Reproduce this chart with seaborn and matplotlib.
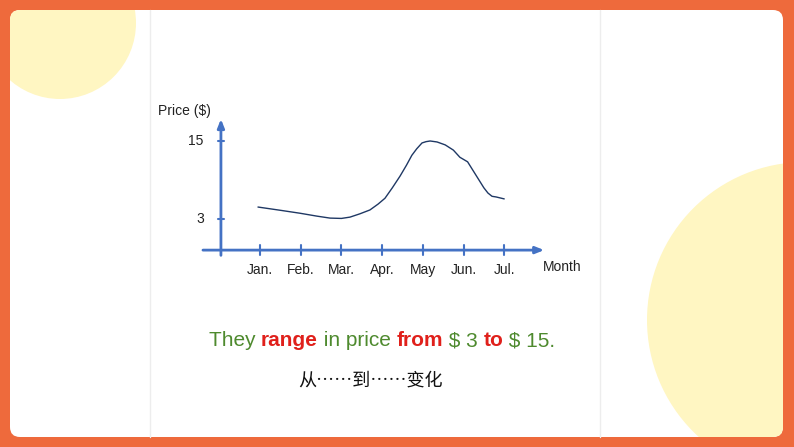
import matplotlib
matplotlib.use("Agg")
import matplotlib.pyplot as plt
import seaborn as sns
import pandas as pd
from matplotlib.patches import FancyBboxPatch, Circle
from matplotlib.offsetbox import TextArea, HPacker, AnchoredOffsetbox

sns.set_style("white")
plt.rcParams['font.family'] = ['Liberation Sans', 'Noto Sans CJK SC', 'DejaVu Sans']

months = ["Jan.", "Feb.", "Mar.", "Apr.", "May", "Jun.", "Jul."]
month_pos = [1, 2, 3, 4, 5, 6, 7]
y_ticks = [3, 15]
# curve (month position, price)
curve_x = [0.95, 1.5, 1.98, 2.4, 2.72, 3.0, 3.21, 3.45, 3.70, 3.9, 4.07, 4.25, 4.44, 4.6,
           4.73, 4.85, 4.98, 5.08, 5.18, 5.35, 5.55, 5.75, 5.91, 6.1, 6.23, 6.32, 6.41,
           6.5, 6.60, 6.7, 6.80, 7.0]
curve_y = [4.85, 4.35, 3.9, 3.45, 3.15, 3.1, 3.3, 3.8, 4.4, 5.3, 6.2, 7.8, 9.6, 11.3,
           12.8, 13.8, 14.7, 14.9, 15.0, 14.85, 14.4, 13.6, 12.5, 11.8, 10.5, 9.6, 8.7,
           7.8, 7.0, 6.5, 6.4, 6.1]

orange = "#EE6A3C"
blue = "#4472C4"
green = "#4E8A2E"
red = "#E0201B"

fig = plt.figure(figsize=(7.94, 4.47), dpi=100)
fig.patch.set_facecolor(orange)

bg = fig.add_axes([0, 0, 1, 1])
bg.set_xlim(0, 794)
bg.set_ylim(447, 0)
bg.axis("off")
bg.add_patch(FancyBboxPatch((10, 10), 773, 427, boxstyle="round,pad=0,rounding_size=10",
                            fc="white", ec="none", zorder=1))
bg.add_patch(Circle((60, 23), 76, fc="#FFF6C2", ec="none", zorder=2))
bg.add_patch(Circle((805, 320), 158, fc="#FFF6C2", ec="none", zorder=2))
bg.plot([150, 150], [10, 437], color="#EDEDED", lw=1, zorder=3)
bg.plot([600, 600], [10, 437], color="#EDEDED", lw=1, zorder=3)
clip = FancyBboxPatch((10, 10), 773, 427, boxstyle="round,pad=0,rounding_size=10",
                      transform=bg.transData, fc="none", ec="none")
bg.add_patch(clip)
for p in bg.patches[1:3]:
    p.set_clip_path(clip)

# chart axes: px x 190..560, y 100..290
ax = fig.add_axes([190 / 794, 1 - 290 / 447, 370 / 794, 190 / 447])
ax.set_xlim(-0.72, 8.37)
ax.set_ylim(-7.9, 21.3)
ax.axis("off")
ax.patch.set_alpha(0)

axis_y = -1.77
axis_x = 0.04
ax.annotate("", xy=(8.05, axis_y), xytext=(-0.47, axis_y),
            arrowprops=dict(arrowstyle="-|>,head_length=0.5,head_width=0.2", color=blue, lw=2))
ax.annotate("", xy=(axis_x, 18.8), xytext=(axis_x, -3.0),
            arrowprops=dict(arrowstyle="-|>,head_length=0.5,head_width=0.2", color=blue, lw=2))
for m, lab in zip(month_pos, months):
    ax.plot([m, m], [axis_y - 0.8, axis_y + 0.8], color=blue, lw=1.5)
    ax.text(m, -4.9, lab, ha="center", va="center", fontsize=10, color="#222222")
for v in y_ticks:
    ax.plot([axis_x - 0.07, axis_x + 0.07], [v, v], color=blue, lw=1.5)
    ax.text(-0.38, v, str(v), ha="right", va="center", fontsize=10, color="#222222")
ax.text(-1.5, 19.6, "Price ($)", ha="left", va="center", fontsize=10, color="#222222", clip_on=False)
ax.text(7.95, -4.4, "Month", ha="left", va="center", fontsize=10, color="#222222", clip_on=False)

df = pd.DataFrame({"month": curve_x, "price": curve_y})
sns.lineplot(data=df, x="month", y="price", ax=ax, color="#1F3864", lw=1, sort=False)
ax.axis("off")

parts = [("They ", green, "normal"), ("range", red, "bold"), (" in price ", green, "normal"),
         ("from", red, "bold"), (" $ 3 ", green, "normal"), ("to", red, "bold"),
         (" $ 15.", green, "normal")]
boxes = [TextArea(t, textprops=dict(color=c, fontweight=w, fontsize=15)) for t, c, w in parts]
pack = HPacker(children=boxes, pad=0, sep=0, align="baseline")
ab = AnchoredOffsetbox(loc="center", child=pack, frameon=False,
                       bbox_to_anchor=(382 / 794, 1 - 341 / 447), bbox_transform=fig.transFigure)
bg.add_artist(ab)

fig.text(370 / 794, 1 - 381 / 447, "从……到……变化", ha="center", va="center", fontsize=13,
         color="#111111", family=['Noto Sans CJK SC', 'DejaVu Sans'])

fig.savefig("out.png", dpi=100, facecolor=fig.get_facecolor())
